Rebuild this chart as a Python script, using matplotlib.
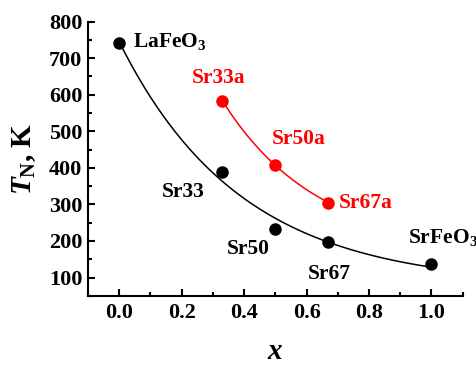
import numpy as np
import matplotlib
matplotlib.use('Agg')
import matplotlib.pyplot as plt
from matplotlib.ticker import MultipleLocator

# data
x_base = [0.0, 0.33, 0.5, 0.67, 1.0]
tn_base = [742, 388, 232, 197, 136]
names_base = ['LaFeO$_\\mathbf{3}$', 'Sr33', 'Sr50', 'Sr67', 'SrFeO$_\\mathbf{3}$']
label_pos_base = [(0.045, 745), (0.136, 333), (0.345, 178), (0.605, 109), (0.926, 210)]

x_a = [0.33, 0.5, 0.67]
tn_a = [584, 407, 305]
names_a = ['Sr33a', 'Sr50a', 'Sr67a']
label_pos_a = [(0.231, 646), (0.49, 478), (0.703, 303)]


def exp_fit(x, y):
    # y = y0 + A*exp(-x/t), grid over t and least squares for y0, A
    x = np.asarray(x, float)
    y = np.asarray(y, float)
    best = None
    for t in np.linspace(0.05, 3.0, 600):
        M = np.column_stack([np.ones_like(x), np.exp(-x / t)])
        c, res, _, _ = np.linalg.lstsq(M, y, rcond=None)
        err = np.sum((M @ c - y) ** 2)
        if best is None or err < best[0]:
            best = (err, t, c)
    _, t, c = best
    return lambda xx: c[0] + c[1] * np.exp(-xx / t)


plt.rcParams['font.family'] = 'Liberation Serif'
plt.rcParams['font.weight'] = 'bold'
plt.rcParams['mathtext.fontset'] = 'custom'
plt.rcParams['mathtext.rm'] = 'Liberation Serif:bold'
plt.rcParams['mathtext.it'] = 'Liberation Serif:bold:italic'
plt.rcParams['mathtext.bf'] = 'Liberation Serif:bold'

fig = plt.figure(figsize=(4.77, 3.67), dpi=100)
ax = fig.add_axes([0.1845, 0.194, 0.7855, 0.747])

f_base = exp_fit(x_base, tn_base)
xx = np.linspace(min(x_base), max(x_base), 200)
ax.plot(xx, f_base(xx), color='black', lw=1.1)
ax.plot(x_base, tn_base, 'o', color='black', ms=8)

f_a = exp_fit(x_a, tn_a)
xx = np.linspace(min(x_a), max(x_a), 200)
ax.plot(xx, f_a(xx), color='red', lw=1.1)
ax.plot(x_a, tn_a, 'o', color='red', ms=8)

for name, (tx, ty) in zip(names_base, label_pos_base):
    ax.text(tx, ty, name, fontsize=15.5, fontweight='bold', color='black', va='center')
for name, (tx, ty) in zip(names_a, label_pos_a):
    ax.text(tx, ty, name, fontsize=15.5, fontweight='bold', color='red', va='center')

ax.set_xlim(-0.1, 1.1)
ax.set_ylim(50, 800)
ax.xaxis.set_minor_locator(MultipleLocator(0.1))
ax.yaxis.set_minor_locator(MultipleLocator(50))
ax.set_yticks(np.arange(100, 801, 100))
ax.set_xticks(np.arange(0, 1.01, 0.2))
ax.set_xticklabels(['%.1f' % v for v in np.arange(0, 1.01, 0.2)])

for s in ['top', 'right']:
    ax.spines[s].set_visible(False)
for s in ['left', 'bottom']:
    ax.spines[s].set_linewidth(1.5)

ax.tick_params(which='major', direction='in', length=5, width=1.5, labelsize=16)
ax.tick_params(which='minor', direction='in', length=3, width=1.5)
for lab in ax.get_xticklabels() + ax.get_yticklabels():
    lab.set_fontweight('bold')
ax.tick_params(axis='x', pad=5)
ax.tick_params(axis='y', pad=4)

ax.set_xlabel('$x$', fontsize=21, labelpad=12)
ax.set_ylabel('$T_\\mathrm{N}$, K', fontsize=21, fontweight='bold', labelpad=8)

fig.savefig('out.png', dpi=100)
